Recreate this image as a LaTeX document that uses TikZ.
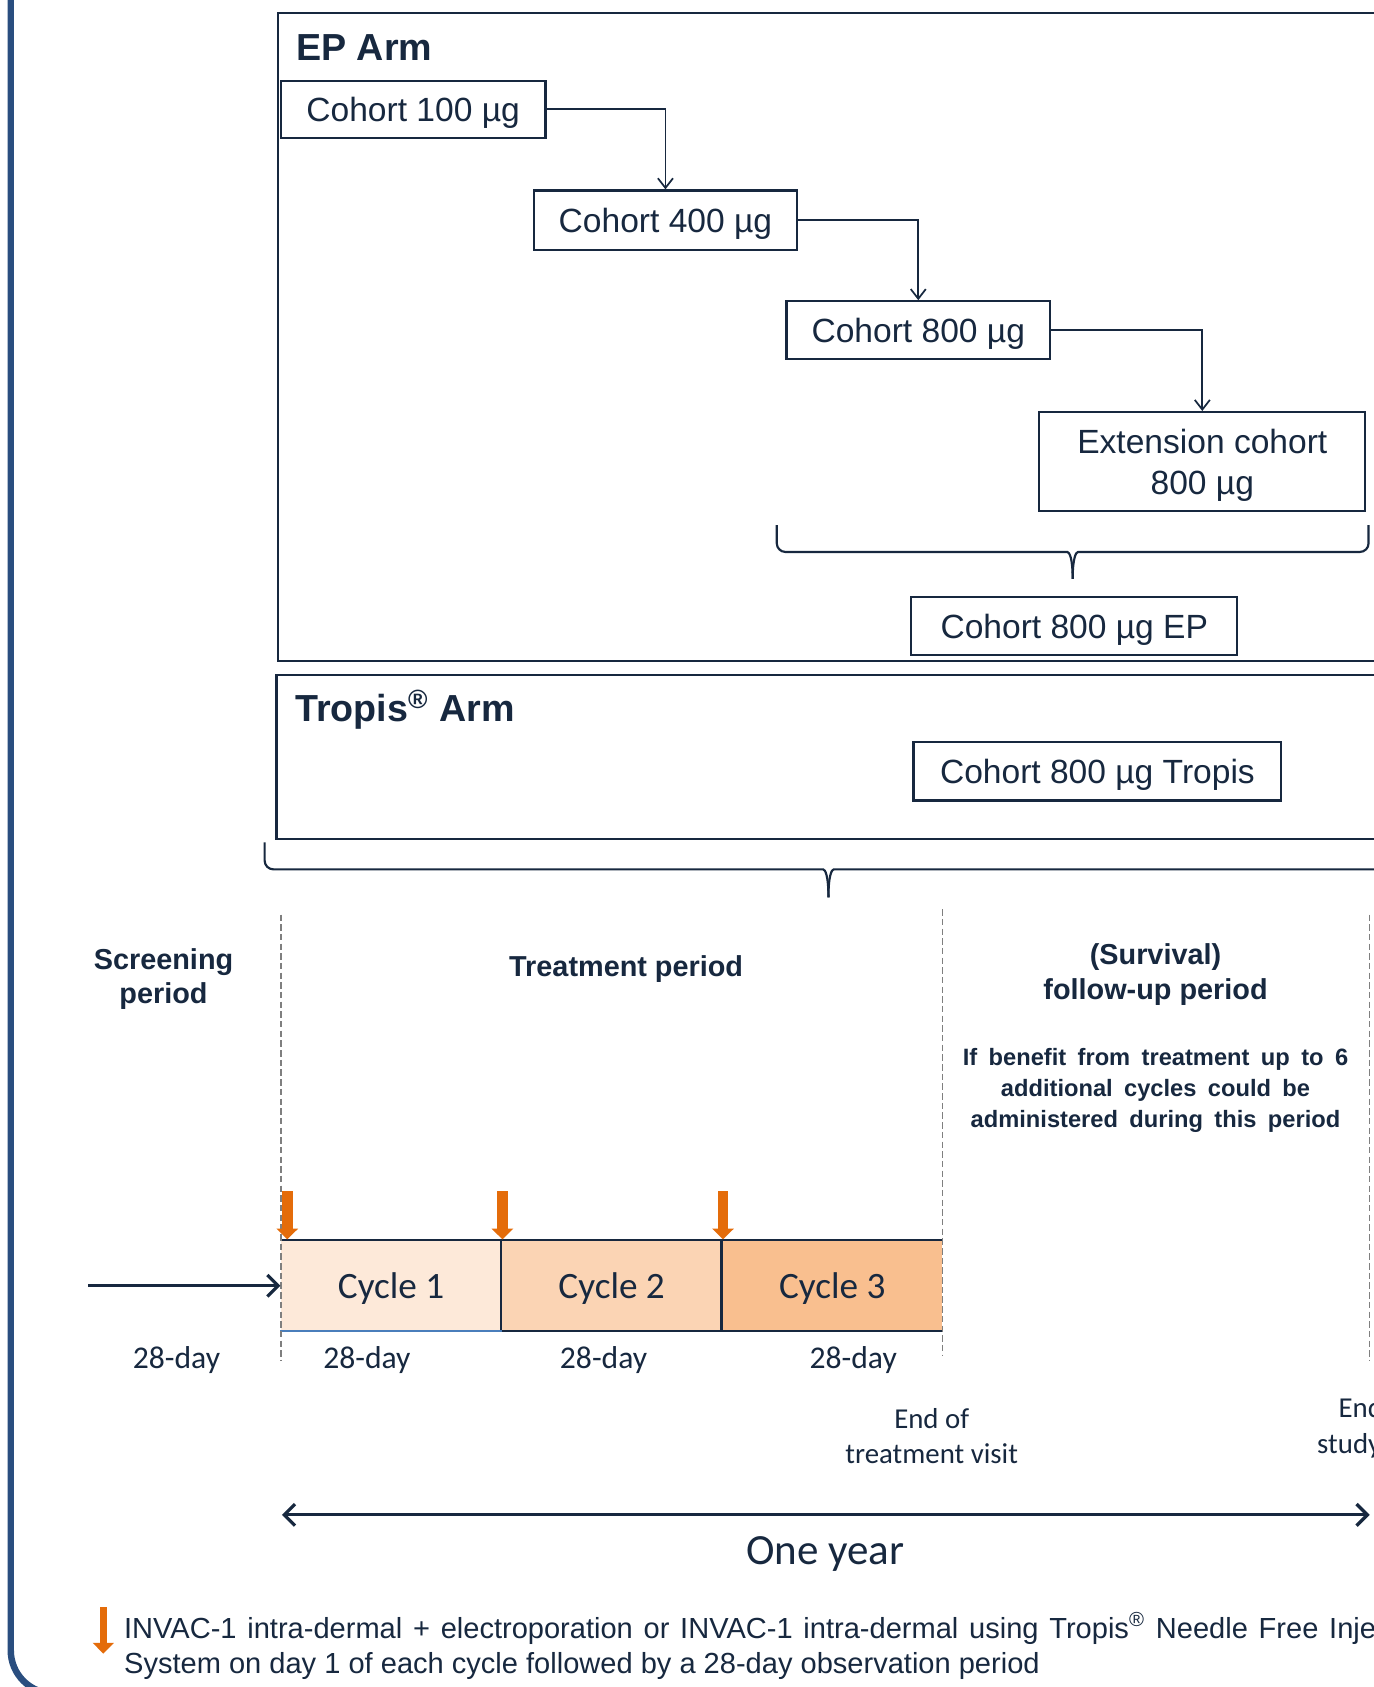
\documentclass[tikz,border=0pt]{standalone}
\usepackage{fontspec}
\setmainfont{Liberation Sans}
\newfontfamily\calib{Carlito}
\usetikzlibrary{arrows.meta}
\definecolor{navy}{HTML}{17283F}
\definecolor{barblue}{HTML}{2A4E7F}
\definecolor{orng}{HTML}{E46C0A}
\definecolor{cA}{HTML}{FDE9D9}
\definecolor{cB}{HTML}{FBD4B4}
\definecolor{cC}{HTML}{F9BF8F}
\definecolor{dgray}{HTML}{7F7F7F}
\definecolor{lineblue}{HTML}{4A7EBB}
\begin{document}
\begin{tikzpicture}[x=0.5pt,y=-0.5pt,
 cbox/.style={draw=navy,line width=1pt,fill=white,text=navy,inner sep=0pt,text depth=0pt,font=\fontsize{15.6}{19}\selectfont,align=center},
 conn/.style={draw=navy,line width=0.8pt,-{Straight Barb[length=4.5pt,width=7pt,line width=0.8pt]}},
 armbox/.style={draw=navy,line width=1pt},
 armtitle/.style={text=navy,font=\bfseries\fontsize{17.5}{21}\selectfont,anchor=base west,inner sep=0pt},
 brace/.style={draw=navy,line width=1pt,rounded corners=4pt},
 period/.style={text=navy,font=\bfseries\fontsize{13.4}{16}\selectfont,align=center,inner sep=0pt,text depth=0pt},
 cyc/.style={text=navy,font=\calib\fontsize{17.3}{20}\selectfont,minimum width=102.5pt,minimum height=42pt,inner sep=0pt,text depth=0pt},
 day/.style={text=navy,font=\calib\fontsize{14.7}{17}\selectfont,inner sep=0pt,text depth=0pt},
 visit/.style={text=navy,font=\calib\fontsize{13.4}{16.5}\selectfont,align=center,inner sep=0pt},
 vdash/.style={draw=dgray,line width=0.7pt,dash pattern=on 3pt off 1.5pt},
 dose/.style={draw=orng,line width=5pt,-{Triangle[length=5pt,width=9.75pt]}},
 dosesmall/.style={draw=orng,line width=3.5pt,-{Triangle[length=5pt,width=9.5pt]}},
 bigarr/.style={draw=navy,line width=1.5pt,-{Straight Barb[length=5pt,width=10pt,line width=1.5pt]}},
 dblarr/.style={draw=navy,line width=1.5pt,{Straight Barb[length=5pt,width=10pt,line width=1.5pt]}-{Straight Barb[length=5pt,width=10pt,line width=1.5pt]}},
]
\useasboundingbox (0,0) rectangle (1277,1568);
\clip (0,0) rectangle (1277,1568);
\fill[white] (0,0) rectangle (1277,1568);

% outer frame (left bar)
\draw[barblue,line width=3pt,rounded corners=20pt] (10,-20) -- (10,1574) -- (1320,1574);

% EP arm
\draw[armbox] (258,12) rectangle (1320,614);
\node[armtitle] (epT) at (275,56) {EP Arm};
\node[cbox,minimum width=123pt,minimum height=26.5pt] (c100) at (384,101.5) {Cohort 100 µg};
\node[cbox,minimum width=122.5pt,minimum height=27.5pt] (c400) at (618.5,204.5) {Cohort 400 µg};
\node[cbox,minimum width=122.5pt,minimum height=27pt] (c800) at (853.5,307) {Cohort 800 µg};
\node[cbox,minimum width=151.5pt,minimum height=46pt] (ext) at (1117.5,429) {Extension cohort\\800 µg};
\draw[conn] (c100.east) -| (c400.north);
\draw[conn] (c400.east) -| (c800.north);
\draw[conn] (c800.east) -| (ext.north);
\draw[brace] (722,488) -- (722,513) -- (984,513) .. controls (994,513) and (997,519) .. (997,538);
\draw[brace] (1272,488) -- (1272,513) -- (1010,513) .. controls (1000,513) and (997,519) .. (997,538);
\node[cbox,minimum width=151.5pt,minimum height=27pt] (cep) at (998.5,582) {Cohort 800 µg EP};

% Tropis arm
\draw[armbox] (257,627) rectangle (1320,780);
\node[armtitle] (trT) at (274,671) {Tropis\textsuperscript{®} Arm};
\node[cbox,minimum width=171pt,minimum height=27pt] (ctr) at (1020,717) {Cohort 800 µg Tropis};

% big brace
\draw[brace] (246,783) -- (246,808) -- (757,808) .. controls (767,808) and (770,814) .. (770,834);
\draw[brace] (1320,808) -- (783,808) .. controls (773,808) and (770,814) .. (770,834);

% period labels
\node[period] (scr) at (152,907) {Screening\\period};
\node[period] (trt) at (582,898) {Treatment period};
\node[period] (fu) at (1074,903) {(Survival)\\follow-up period};
\node[text=navy,font=\bfseries\fontsize{11}{14.5}\selectfont,align=center,inner sep=0pt,text depth=0pt] (ben) at (1074,1011)
 {\spaceskip=5.3pt\relax If benefit from treatment up to 6\\\spaceskip=5.3pt\relax additional cycles could be\\\spaceskip=5.3pt\relax administered during this period};

% cycles
\node[cyc,fill=cA] (cy1) at (363.5,1195) {Cycle 1};
\node[cyc,fill=cB] (cy2) at (568.5,1195) {Cycle 2};
\node[cyc,fill=cC] (cy3) at (773.5,1195) {Cycle 3};
\draw[navy,line width=1pt] (cy1.north west) -- (cy3.north east) (cy1.south west) -- (cy3.south east)
  (cy2.north west) -- (cy2.south west) (cy3.north west) -- (cy3.south west);
\draw[lineblue,line width=1pt] (cy1.south west) -- (cy1.south east);

% dashed separators
\coordinate (s1t) at (261,850); \coordinate (s1b) at (261,1265);
\coordinate (s2t) at (876,845); \coordinate (s2b) at (876,1260);
\coordinate (s3t) at (1273,850); \coordinate (s3b) at (1273,1265);
\draw[vdash] (s1t) -- (s1b);
\draw[vdash] (s2t) -- (s2b);
\draw[vdash] (s3t) -- (s3b);

% entry arrow
\coordinate (ent) at (82,1195);
\draw[bigarr] (ent) -- (cy1.west);

% dose arrows
\coordinate (d1) at (267,1107); \coordinate (d2) at (467,1107); \coordinate (d3) at (672,1107);
\draw[dose] (d1) -- (267,1152);
\draw[dose] (d2) -- (467,1152);
\draw[dose] (d3) -- (672,1152);

% day labels
\node[day] (dy0) at (164,1262) {28-day};
\node[day] (dy1) at (341,1262) {28-day};
\node[day] (dy2) at (561,1262) {28-day};
\node[day] (dy3) at (793,1262) {28-day};

\node[visit] (eot) at (866,1335) {End of\\treatment visit};
\node[visit] (eos) at (1279,1327) {End of\\study visit};

% one year
\coordinate (oyL) at (262,1408); \coordinate (oyR) at (1273,1408);
\draw[dblarr] (oyL) -- (oyR);
\node[text=navy,font=\calib\fontsize{20}{24}\selectfont,inner sep=0pt,text depth=0pt] (oy) at (767,1441) {One year};

% footer
\coordinate (fa) at (96,1494); \coordinate (fb) at (96,1537);
\draw[dosesmall] (fa) -- (fb);
\node[anchor=west,text=navy,font=\fontsize{13.5}{16.5}\selectfont,align=left,inner sep=0pt] (foot) at (115,1530)
 {{\spaceskip=5pt\relax INVAC-1 intra-dermal + electroporation or INVAC-1 intra-dermal using Tropis\textsuperscript{®} Needle Free Injection}\\System on day 1 of each cycle followed by a 28-day observation period};
\end{tikzpicture}
\end{document}
